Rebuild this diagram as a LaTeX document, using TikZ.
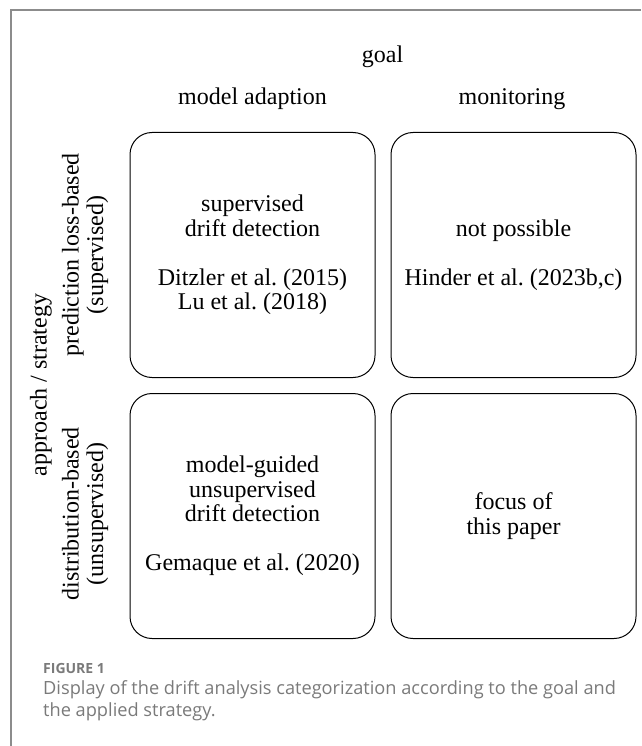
\documentclass[tikz,border=0pt]{standalone}
\usepackage{fontspec}
\setmainfont{Liberation Serif}
\newfontfamily\captfont{Open Sans}
\usetikzlibrary{positioning}

\definecolor{framegray}{HTML}{8C8C8C}
\definecolor{captgray}{HTML}{7A7A7A}
\frenchspacing

\begin{document}
\begin{tikzpicture}[
    x=1pt,
    y=-1pt,
    cell/.style={draw, rounded corners=22pt, align=center, minimum width=245pt, minimum height=245pt, inner sep=0pt, line width=1pt, font=\fontsize{24}{24.5}\selectfont},
    lbl/.style={align=center, font=\fontsize{24}{24.5}\selectfont, inner sep=0pt},
    sidelbl/.style={lbl, rotate=90},
    capt/.style={align=left, text=captgray, inner sep=0pt}
]
\useasboundingbox (0,0) rectangle (641,746);
\draw[framegray, line width=2pt] (11,746) -- (11,10) -- (641,10);

% the four cells
\node[cell] (sup) at (252.5,255) {supervised\\drift detection\\[24.5pt]Ditzler et al. (2015)\\Lu et al. (2018)};
\node[cell, right=15pt of sup] (nope) {not possible\\[24.5pt]Hinder et al. (2023b,c)};
\node[cell, below=15pt of sup] (guided) {model-guided\\unsupervised\\drift detection\\[24.5pt]Gemaque et al. (2020)};
\node[cell, right=15pt of guided] (focus) {focus of\\this paper};

% column heads
\node[lbl, anchor=base] (goal) at (382.5,63) {goal};
\node[lbl, anchor=base] (adapt) at (252.5,105) {model adaption};
\node[lbl, anchor=base] (monit) at (512,105) {monitoring};

% row heads
\node[sidelbl] (approach) at (41,385) {approach / strategy};
\node[sidelbl] (lossrow) at (85,255) {prediction loss-based\\(supervised)};
\node[sidelbl] (distrow) at (85,514) {distribution-based\\(unsupervised)};

% caption
\node[capt, anchor=base west, font=\captfont\bfseries\fontsize{14}{16}\selectfont] (fig) at (43,673) {FIGURE 1};
\node[capt, anchor=north west, font=\captfont\fontsize{18.2}{22}\selectfont] (text) at (43,680) {Display of the drift analysis categorization according to the goal and\\the applied strategy.};
\end{tikzpicture}
\end{document}
